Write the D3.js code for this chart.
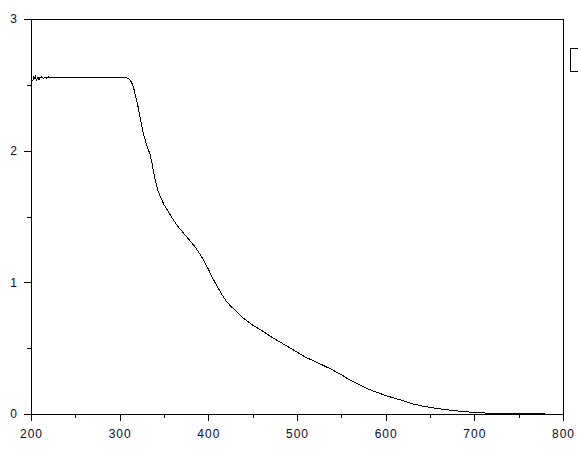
<!DOCTYPE html>
<html lang="en">
<head>
  <meta charset="UTF-8">
  <title>Absorbance spectrum</title>
  <script src="https://d3js.org/d3.v7.min.js"></script>
  <style>
    body { margin: 0; background: #fff; }
    text { font-family: "Liberation Sans", Arial, sans-serif; }
  </style>
</head>
<body>
<svg width="578" height="454"></svg>
<script>
  // wavelength (nm) and absorbance
  var wavelength = [200, 201, 202, 203, 204, 205, 206, 207, 208, 209, 210, 212, 214, 216, 218, 220, 223, 226, 230, 235,
    240, 250, 260, 270, 280, 290, 300, 305, 308, 310, 312, 314, 316, 318, 320, 322, 324, 326, 328, 330,
    332, 334, 336, 338, 340, 343, 346, 350, 355, 360, 365, 370, 375, 380, 385, 390, 395, 400, 405, 410,
    415, 420, 425, 430, 440, 450, 460, 470, 480, 490, 500, 510, 520, 530, 540, 550, 560, 570, 580, 590,
    600, 610, 620, 630, 640, 650, 660, 670, 680, 690, 700, 710, 720, 730, 740, 750, 760, 770, 780];
  var absorbance = [2.51, 2.54, 2.53, 2.56, 2.55, 2.565, 2.535, 2.545, 2.56, 2.54, 2.555, 2.56, 2.548, 2.558, 2.55, 2.56, 2.552, 2.558, 2.552, 2.556,
    2.553, 2.555, 2.554, 2.555, 2.555, 2.555, 2.555, 2.555, 2.553, 2.55, 2.535, 2.51, 2.47, 2.41, 2.36, 2.29, 2.22, 2.15, 2.10, 2.05,
    2.01, 1.98, 1.92, 1.85, 1.78, 1.70, 1.65, 1.59, 1.535, 1.48, 1.43, 1.39, 1.35, 1.31, 1.27, 1.22, 1.165, 1.10, 1.03, 0.97,
    0.91, 0.86, 0.82, 0.79, 0.725, 0.675, 0.635, 0.59, 0.55, 0.51, 0.47, 0.43, 0.40, 0.368, 0.335, 0.298, 0.257, 0.225, 0.19, 0.165,
    0.14, 0.12, 0.10, 0.078, 0.062, 0.05, 0.04, 0.031, 0.024, 0.017, 0.012, 0.008, 0.006, 0.004, 0.003, 0.003, 0.002, 0.002, 0.002];

  var xTicks = [200, 300, 400, 500, 600, 700, 800];
  var xMinorTicks = [250, 350, 450, 550, 650, 750];
  var yTicks = [0, 1, 2, 3];
  var yMinorTicks = [0.5, 1.5, 2.5];

  var svg = d3.select('svg');
  var margin = {left: 31, right: 563, top: 19, bottom: 414};
  var labelColor = '#0a0a2a';

  var x = d3.scaleLinear().domain([200, 800]).range([margin.left, margin.right]);
  var y = d3.scaleLinear().domain([0, 3]).range([margin.bottom, margin.top]);

  var points = wavelength.map(function (w, i) {
    return {w: w, a: absorbance[i]};
  });

  // minor ticks first, then the labelled axes on top
  svg.append('g')
    .attr('transform', 'translate(0,' + margin.bottom + ')')
    .call(d3.axisBottom(x).tickValues(xMinorTicks).tickSize(4).tickSizeOuter(0).tickFormat(''))
    .call(function (g) { g.select('.domain').remove(); });

  svg.append('g')
    .attr('transform', 'translate(' + margin.left + ',0)')
    .call(d3.axisLeft(y).tickValues(yMinorTicks).tickSize(4).tickSizeOuter(0).tickFormat(''))
    .call(function (g) { g.select('.domain').remove(); });

  var xAxis = svg.append('g')
    .attr('transform', 'translate(0,' + margin.bottom + ')')
    .call(d3.axisBottom(x).tickValues(xTicks).tickSize(7).tickSizeOuter(0).tickPadding(8).tickFormat(d3.format('d')));

  var yAxis = svg.append('g')
    .attr('transform', 'translate(' + margin.left + ',0)')
    .call(d3.axisLeft(y).tickValues(yTicks).tickSize(7).tickSizeOuter(0).tickPadding(7).tickFormat(d3.format('d')));

  svg.selectAll('.tick line, .domain')
    .attr('stroke', '#000')
    .attr('shape-rendering', 'crispEdges');

  xAxis.selectAll('text')
    .attr('font-size', 12)
    .attr('letter-spacing', 1)
    .attr('fill', labelColor);
  yAxis.selectAll('text')
    .attr('font-size', 12)
    .attr('fill', labelColor);

  // frame: top and right edges
  svg.append('path')
    .attr('d', 'M' + margin.left + ',' + margin.top + 'H' + margin.right + 'V' + margin.bottom)
    .attr('fill', 'none')
    .attr('stroke', '#000')
    .attr('shape-rendering', 'crispEdges');

  var line = d3.line()
    .x(function (d) { return x(d.w); })
    .y(function (d) { return y(d.a); });

  svg.append('path')
    .datum(points)
    .attr('fill', 'none')
    .attr('stroke', '#000')
    .attr('stroke-width', 1)
    .attr('shape-rendering', 'crispEdges')
    .attr('d', line);

  // legend box, cut off by the right edge
  svg.append('rect')
    .attr('x', 570.5)
    .attr('y', 48.5)
    .attr('width', 20)
    .attr('height', 23)
    .attr('fill', '#fff')
    .attr('stroke', '#000');
</script>
</body>
</html>
